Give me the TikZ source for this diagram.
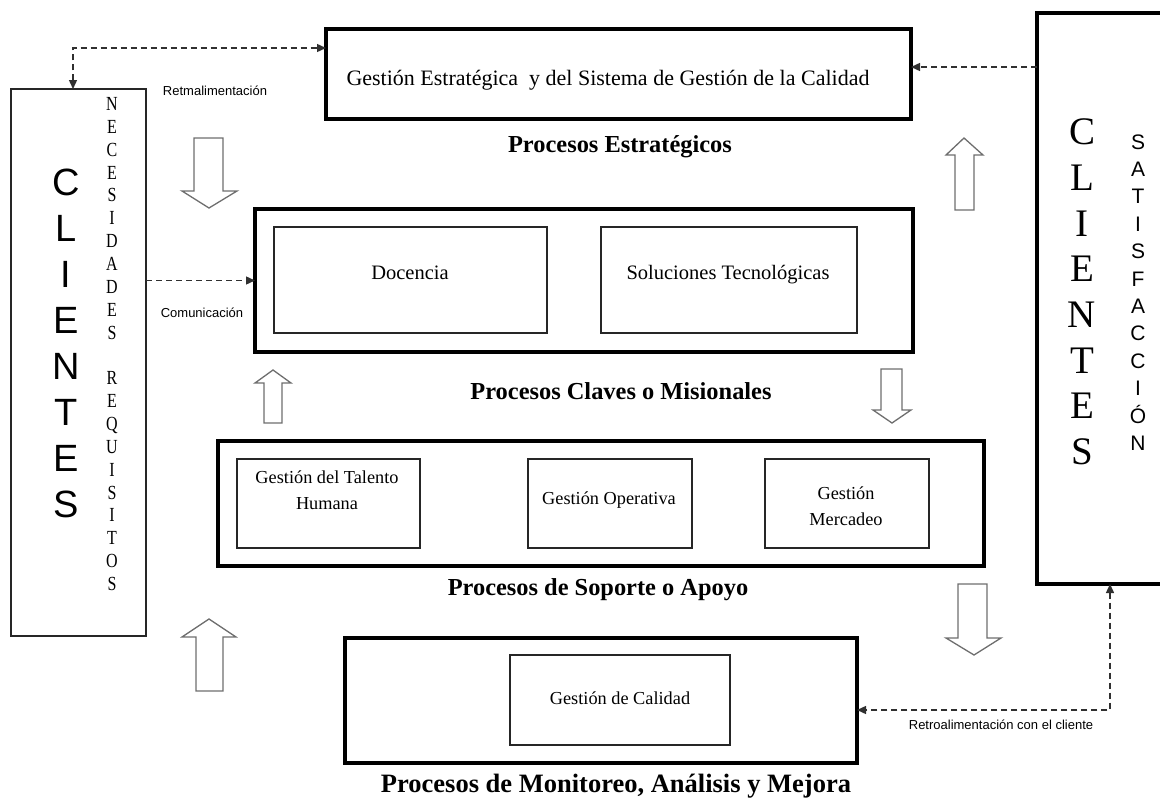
\documentclass[tikz,border=0pt]{standalone}
\usepackage{fontspec}
\setmainfont{Liberation Serif}
\newfontfamily\sansf{Liberation Sans}
\newfontfamily\narrowserif[FakeStretch=0.8]{Liberation Serif}
\usetikzlibrary{arrows.meta,calc}
\definecolor{arrowgray}{HTML}{6E6E6E}
\definecolor{dashgray}{HTML}{303030}
\tikzset{
  procbox/.style={draw=black, line width=3.5pt, inner sep=0pt, outer sep=0pt, rectangle},
  subbox/.style={draw=black!85, line width=1.3pt, inner sep=0pt, outer sep=0pt, rectangle},
  clientbox/.style={draw=black!85, line width=1.5pt, inner sep=0pt, outer sep=0pt, rectangle},
  blockarrow/.style={draw=arrowgray, line width=1.3pt, fill=white, line join=miter},
  dashconn/.style={draw=dashgray, line width=1.4pt, dash pattern=on 6pt off 4pt},
  tip/.style={-{Triangle[length=9pt,width=8pt]}},
  bothtips/.style={{Triangle[length=9pt,width=8pt]}-{Triangle[length=9pt,width=8pt]}},
  boxtext/.style={inner sep=0pt, align=center},
  grouplabel/.style={inner sep=0pt, font=\bfseries\fontsize{24.4}{28}\selectfont},
  smalllabel/.style={inner sep=0pt, font=\sansf\fontsize{13}{15}\selectfont},
}
\begin{document}
\begin{tikzpicture}[x=1pt,y=-1pt]
\useasboundingbox (0,0) rectangle (1160,798);

% client boxes
\node[clientbox, minimum width=135pt, minimum height=547pt] (lcl) at (78.5,362.5) {};
\begin{scope}
  \clip (0,0) rectangle (1160,798);
  \node[procbox, minimum width=138pt, minimum height=571pt] (rcl) at (1106,298.5) {};
\end{scope}

\node[inner sep=0pt, align=center, font=\sansf\fontsize{38}{46.1}\selectfont] (lclT) at (66,343.5) {C\\L\\I\\E\\N\\T\\E\\S};
\node[inner sep=0pt, align=center, font=\narrowserif\fontsize{20}{22.86}\selectfont] (needs) at (112,344) {N\\E\\C\\E\\S\\I\\D\\A\\D\\E\\S\\[22.86pt]R\\E\\Q\\U\\I\\S\\I\\T\\O\\S};
\node[inner sep=0pt, align=center, font=\fontsize{39}{45.7}\selectfont] (rclT) at (1082,292) {C\\L\\I\\E\\N\\T\\E\\S};
\node[inner sep=0pt, align=center, font=\sansf\fontsize{21}{27.4}\selectfont] (satis) at (1138,292.5) {S\\A\\T\\I\\S\\F\\A\\C\\C\\I\\Ó\\N};

% process boxes
\node[procbox, minimum width=585pt, minimum height=90pt] (strat) at (618.5,74) {};
\node[boxtext, anchor=base, font=\fontsize{22}{26}\selectfont] (stratT) at (608,85) {Gestión Estratégica\ \ y del Sistema de Gestión de la Calidad};
\node[grouplabel, anchor=base] (stratL) at (620,152) {Procesos Estratégicos};

\node[procbox, minimum width=658pt, minimum height=143pt] (key) at (584,280.5) {};
\node[subbox, minimum width=273pt, minimum height=106pt] (doc) at (410.5,280) {};
\node[subbox, minimum width=256pt, minimum height=106pt] (sol) at (729,280) {};
\node[boxtext, anchor=base, font=\fontsize{20.5}{24}\selectfont] (docT) at (410,279) {Docencia};
\node[boxtext, anchor=base, font=\fontsize{20.5}{24}\selectfont] (solT) at (728,279) {Soluciones Tecnológicas};
\node[grouplabel, anchor=base] (keyL) at (621,399) {Procesos Claves o Misionales};

\node[procbox, minimum width=766pt, minimum height=125pt] (sup) at (601,503.5) {};
\node[subbox, minimum width=183pt, minimum height=89pt] (tal) at (328.5,503.5) {};
\node[subbox, minimum width=164pt, minimum height=89pt] (ope) at (610,503.5) {};
\node[subbox, minimum width=164pt, minimum height=89pt] (mer) at (847,503.5) {};
\node[boxtext, font=\fontsize{18.3}{26}\selectfont] (talT) at (327,490) {Gestión del Talento\\Humana};
\node[boxtext, anchor=base, font=\fontsize{18.3}{26}\selectfont] (opeT) at (609,504) {Gestión Operativa};
\node[boxtext, font=\fontsize{18.3}{26}\selectfont] (merT) at (846,506) {Gestión\\Mercadeo};
\node[grouplabel, anchor=base] (supL) at (598,595) {Procesos de Soporte o Apoyo};

\node[procbox, minimum width=512pt, minimum height=125pt] (mon) at (601,700.5) {};
\node[subbox, minimum width=220pt, minimum height=90pt] (cal) at (620,700) {};
\node[boxtext, anchor=base, font=\fontsize{18.3}{26}\selectfont] (calT) at (620,704) {Gestión de Calidad};
\node[grouplabel, anchor=base, font=\bfseries\fontsize{26.5}{30}\selectfont] (monL) at (616,792) {Procesos de Monitoreo, Análisis y Mejora};

% small labels
\node[smalllabel] (retL) at (215,91) {Retmalimentación};
\node[smalllabel] (comL) at (202,313) {Comunicación};
\node[smalllabel] (retcL) at (1001,725) {Retroalimentación con el cliente};

% block arrows
\draw[blockarrow] (194,138) -- (223,138) -- (223,191) -- (237,191) -- (209,208) -- (182,191) -- (194,191) -- cycle;
\draw[blockarrow] (955,210) -- (974,210) -- (974,155) -- (983,155) -- (964,138) -- (946,155) -- (955,155) -- cycle;
\draw[blockarrow] (264,423) -- (282,423) -- (282,383) -- (291,383) -- (273,370) -- (255,383) -- (264,383) -- cycle;
\draw[blockarrow] (881,369) -- (902,369) -- (902,410) -- (911,410) -- (892,423) -- (873,410) -- (881,410) -- cycle;
\draw[blockarrow] (958,584) -- (987,584) -- (987,638) -- (1001,638) -- (974,655) -- (946,638) -- (958,638) -- cycle;
\draw[blockarrow] (196,691) -- (223,691) -- (223,637) -- (236,637) -- (209,619) -- (182,637) -- (196,637) -- cycle;

% dashed connectors
\coordinate (sW) at ([yshift=26pt]strat.west);
\coordinate (lN) at ([xshift=-5.5pt]lcl.north);
\draw[dashconn, bothtips] (lN) |- (sW);
\coordinate (sE) at ([yshift=7pt]strat.east);
\draw[dashconn, tip] (rcl.west |- sE) -- (sE);
\draw[dashconn, tip] (lcl.east |- key.west) -- (key.west);
\coordinate (rS) at ([xshift=4pt]rcl.south);
\coordinate (mE) at ([yshift=-9.5pt]mon.east);
\draw[dashconn, bothtips] (rS) |- (mE);
\end{tikzpicture}
\end{document}
